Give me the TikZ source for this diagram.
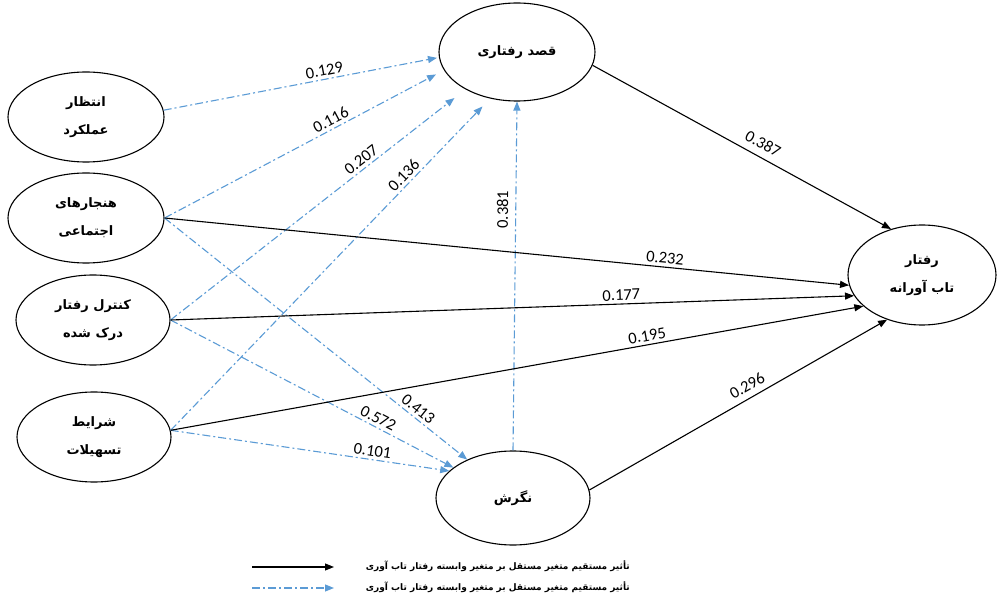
\documentclass[tikz,border=0pt]{standalone}
\usepackage{fontspec}
\setmainfont{Carlito}
\newfontfamily\fa[Script=Arabic]{DejaVu Sans}
\TeXXeTstate=1
\usetikzlibrary{shapes.geometric,arrows.meta}
\definecolor{pathblue}{HTML}{5B9BD5}

\tikzset{
  var/.style={ellipse, draw=black, line width=1.1pt, inner sep=0pt, align=center,
    font=\fa\bfseries\fontsize{13}{28}\selectfont},
  direct/.style={draw=black, line width=1.1pt, -{Triangle[length=9pt,width=7pt]}},
  indirect/.style={draw=pathblue, line width=1.1pt,
    dash pattern=on 8pt off 3pt on 2pt off 3pt, -{Triangle[length=9pt,width=7pt]}},
  coef/.style={font=\fontsize{16.5}{16.5}\selectfont, sloped, above=2pt, inner sep=1pt},
  legendtext/.style={anchor=east, inner sep=0pt, font=\fa\bfseries\fontsize{9}{9}\selectfont}
}

\begin{document}
\begin{tikzpicture}[x=1pt,y=-1pt]
\useasboundingbox (0,0) rectangle (997,596);

% variables
\node[var, minimum width=156pt, minimum height=90pt] (n1) at (86,117) {\beginR انتظار\endR\\\beginR عملکرد\endR};
\node[var, minimum width=156pt, minimum height=90pt] (n2) at (86,218) {\beginR هنجارهای\endR\\\beginR اجتماعی\endR};
\node[var, minimum width=154pt, minimum height=90pt] (n3) at (93,320) {\beginR کنترل رفتار\endR\\\beginR درک شده\endR};
\node[var, minimum width=154pt, minimum height=90pt] (n4) at (94,437) {\beginR شرایط\endR\\\beginR تسهیلات\endR};
\node[var, minimum width=156pt, minimum height=98pt] (q) at (517,52) {\beginR قصد رفتاری\endR};
\node[var, minimum width=154pt, minimum height=94pt] (g) at (513,498) {\beginR نگرش\endR};
\node[var, minimum width=148pt, minimum height=100pt] (r) at (922,275) {\beginR رفتار\endR\\\beginR تاب آورانه\endR};

% paths into intention
\draw[indirect, shorten >=2pt] (n1.5) -- (q.184) node[coef, pos=.59] {0.129};
\draw[indirect, shorten >=9pt] (n2.east) -- (q.194) node[coef, pos=.61] {0.116};
\draw[indirect, shorten >=14pt] (n3.east) -- (q.216) node[coef, pos=.665] {0.207};
\draw[indirect, shorten >=11pt] (n4.5) -- (q.240) node[coef, pos=.75] {0.136};
\draw[indirect] (g.north) -- (q.south) node[coef, pos=.69, above=4pt] {0.381};

% paths into attitude
\draw[indirect] (n2.east) -- (g.140) node[coef, pos=.82] {0.413};
\draw[indirect] (n3.east) -- (g.153) node[coef, pos=.72] {0.572};
\draw[indirect] (n4.5) -- (g.157) node[coef, pos=.72] {0.101};

% direct paths into behaviour
\draw[direct] (q.-10) -- (r.124) node[coef, pos=.55, above=4pt] {0.387};
\draw[direct] (n2.east) -- (r.188) node[coef, pos=.73] {0.232};
\draw[direct] (n3.east) -- (r.197) node[coef, pos=.66] {0.177};
\draw[direct] (n4.5) -- (r.208) node[coef, pos=.69] {0.195};
\draw[direct] (g.6) -- (r.232) node[coef, pos=.55, above=3pt] {0.296};

% legend
\coordinate (l1a) at (252,567); \coordinate (l1b) at (334,567);
\coordinate (l2a) at (252,588); \coordinate (l2b) at (334,588);
\draw[direct] (l1a) -- (l1b);
\draw[indirect] (l2a) -- (l2b);
\node[legendtext] (leg1) at (630,566) {\beginR تأثیر مستقیم متغیر مستقل بر متغیر وابسته رفتار تاب آوری\endR};
\node[legendtext] (leg2) at (630,587) {\beginR تأثیر مستقیم متغیر مستقل بر متغیر وابسته رفتار تاب آوری\endR};
\end{tikzpicture}
\end{document}
